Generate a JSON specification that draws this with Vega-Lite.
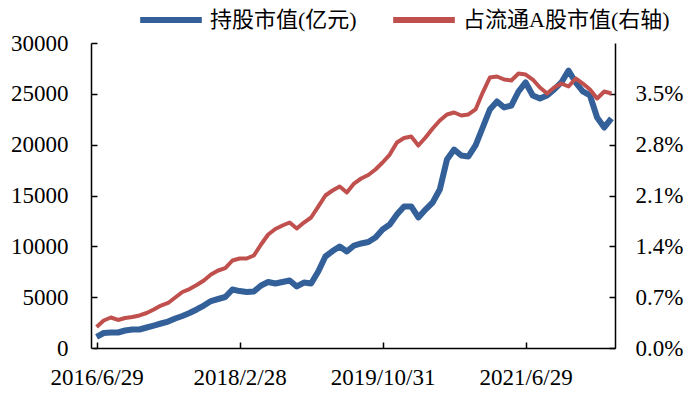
{
  "$schema": "https://vega.github.io/schema/vega-lite/v6.json",
  "width": 524,
  "height": 305,
  "autosize": {"type": "none"},
  "padding": {"left": 91, "top": 43, "right": 81, "bottom": 51},
  "background": "white",
  "config": {
    "view": {"stroke": null},
    "font": "Liberation Serif",
    "axis": {"labelFont": "Liberation Serif", "labelColor": "#000000", "domainColor": "#000000", "tickColor": "#000000", "domainWidth": 1.5, "tickWidth": 1.5, "grid": false, "title": null}
  },
  "data": {
    "values": [
      {"date": "2016/6/29", "value": 1100, "share": 0.00289},
      {"date": "2016/7/29", "value": 1475, "share": 0.00379},
      {"date": "2016/8/31", "value": 1525, "share": 0.00420},
      {"date": "2016/9/30", "value": 1525, "share": 0.00386},
      {"date": "2016/10/31", "value": 1720, "share": 0.00413},
      {"date": "2016/11/30", "value": 1820, "share": 0.00427},
      {"date": "2016/12/30", "value": 1820, "share": 0.00448},
      {"date": "2017/1/26", "value": 2015, "share": 0.00482},
      {"date": "2017/2/28", "value": 2210, "share": 0.00530},
      {"date": "2017/3/31", "value": 2410, "share": 0.00585},
      {"date": "2017/4/28", "value": 2605, "share": 0.00620},
      {"date": "2017/5/31", "value": 2900, "share": 0.00695},
      {"date": "2017/6/30", "value": 3150, "share": 0.00771},
      {"date": "2017/7/31", "value": 3440, "share": 0.00812},
      {"date": "2017/8/31", "value": 3790, "share": 0.00867},
      {"date": "2017/9/29", "value": 4180, "share": 0.00929},
      {"date": "2017/10/31", "value": 4620, "share": 0.01012},
      {"date": "2017/11/30", "value": 4820, "share": 0.01067},
      {"date": "2017/12/29", "value": 5015, "share": 0.01100},
      {"date": "2018/1/31", "value": 5750, "share": 0.01205},
      {"date": "2018/2/28", "value": 5600, "share": 0.01232},
      {"date": "2018/3/30", "value": 5500, "share": 0.01232},
      {"date": "2018/4/27", "value": 5560, "share": 0.01274},
      {"date": "2018/5/31", "value": 6150, "share": 0.01425},
      {"date": "2018/6/29", "value": 6490, "share": 0.01563},
      {"date": "2018/7/31", "value": 6340, "share": 0.01639},
      {"date": "2018/8/31", "value": 6490, "share": 0.01687},
      {"date": "2018/9/28", "value": 6640, "share": 0.01728},
      {"date": "2018/10/31", "value": 6050, "share": 0.01646},
      {"date": "2018/11/30", "value": 6440, "share": 0.01728},
      {"date": "2018/12/28", "value": 6340, "share": 0.01797},
      {"date": "2019/1/31", "value": 7520, "share": 0.01948},
      {"date": "2019/2/28", "value": 9000, "share": 0.02100},
      {"date": "2019/3/29", "value": 9540, "share": 0.02169},
      {"date": "2019/4/30", "value": 9980, "share": 0.02224},
      {"date": "2019/5/31", "value": 9490, "share": 0.02141},
      {"date": "2019/6/28", "value": 10080, "share": 0.02265},
      {"date": "2019/7/31", "value": 10280, "share": 0.02334},
      {"date": "2019/8/30", "value": 10430, "share": 0.02382},
      {"date": "2019/9/30", "value": 10870, "share": 0.02458},
      {"date": "2019/10/31", "value": 11660, "share": 0.02554},
      {"date": "2019/11/29", "value": 12150, "share": 0.02664},
      {"date": "2019/12/31", "value": 13130, "share": 0.02830},
      {"date": "2020/1/23", "value": 13920, "share": 0.02892},
      {"date": "2020/2/28", "value": 13920, "share": 0.02912},
      {"date": "2020/3/31", "value": 12840, "share": 0.02788},
      {"date": "2020/4/30", "value": 13620, "share": 0.02899},
      {"date": "2020/5/29", "value": 14310, "share": 0.03023},
      {"date": "2020/6/30", "value": 15590, "share": 0.03133},
      {"date": "2020/7/31", "value": 18540, "share": 0.03216},
      {"date": "2020/8/31", "value": 19520, "share": 0.03243},
      {"date": "2020/9/30", "value": 18930, "share": 0.03202},
      {"date": "2020/10/30", "value": 18840, "share": 0.03216},
      {"date": "2020/11/30", "value": 19920, "share": 0.03285},
      {"date": "2020/12/31", "value": 21690, "share": 0.03518},
      {"date": "2021/1/29", "value": 23460, "share": 0.03725},
      {"date": "2021/2/26", "value": 24250, "share": 0.03739},
      {"date": "2021/3/31", "value": 23660, "share": 0.03697},
      {"date": "2021/4/30", "value": 23850, "share": 0.03684},
      {"date": "2021/5/31", "value": 25230, "share": 0.03780},
      {"date": "2021/6/29", "value": 26120, "share": 0.03766},
      {"date": "2021/7/30", "value": 24840, "share": 0.03697},
      {"date": "2021/8/31", "value": 24540, "share": 0.03587},
      {"date": "2021/9/30", "value": 24840, "share": 0.03504},
      {"date": "2021/10/29", "value": 25430, "share": 0.03587},
      {"date": "2021/11/30", "value": 26120, "share": 0.03642},
      {"date": "2021/12/31", "value": 27290, "share": 0.03601},
      {"date": "2022/1/28", "value": 26120, "share": 0.03711},
      {"date": "2022/2/28", "value": 25230, "share": 0.03642},
      {"date": "2022/3/31", "value": 24840, "share": 0.03560},
      {"date": "2022/4/29", "value": 22670, "share": 0.03436},
      {"date": "2022/5/31", "value": 21690, "share": 0.03532},
      {"date": "2022/6/30", "value": 22580, "share": 0.03504}
    ]
  },
  "encoding": {
    "x": {
      "field": "date",
      "type": "ordinal",
      "sort": null,
      "scale": {"type": "point", "range": [2, 524]},
      "axis": {
        "values": ["2016/6/29", "2018/2/28", "2019/10/31", "2021/6/29"],
        "labelAngle": 0,
        "labelFontSize": 23,
        "tickSize": -6,
        "labelPadding": 24
      }
    }
  },
  "layer": [
    {
      "mark": {"type": "line", "strokeWidth": 6, "strokeCap": "butt", "strokeJoin": "round"},
      "encoding": {
        "y": {
          "field": "value",
          "type": "quantitative",
          "scale": {"domain": [0, 30000], "nice": false},
          "axis": {"orient": "left", "values": [0, 5000, 10000, 15000, 20000, 25000, 30000], "format": "d", "labelFontSize": 23, "tickSize": -6, "labelPadding": 29}
        },
        "color": {
          "datum": "持股市值(亿元)",
          "type": "nominal",
          "scale": {"domain": ["持股市值(亿元)", "占流通A股市值(右轴)"], "range": ["#34609a", "#c0504d"]},
          "legend": {
            "orient": "none",
            "legendX": 46,
            "legendY": -57,
            "direction": "horizontal",
            "title": null,
            "symbolType": "stroke",
            "symbolSize": 3800,
            "symbolStrokeWidth": 6,
            "labelFont": "Liberation Serif, Noto Sans CJK SC",
            "labelFontSize": 22,
            "labelColor": "#000000",
            "labelLimit": 400,
            "labelOffset": 5,
            "columnPadding": 24
          }
        }
      }
    },
    {
      "mark": {"type": "line", "strokeWidth": 4, "strokeCap": "butt", "strokeJoin": "round"},
      "encoding": {
        "y": {
          "field": "share",
          "type": "quantitative",
          "scale": {"domain": [0, 0.042], "nice": false},
          "axis": {"orient": "right", "values": [0, 0.007, 0.014, 0.021, 0.028, 0.035], "format": ".1%", "labelFontSize": 23, "tickSize": -6, "labelPadding": 26}
        },
        "color": {"datum": "占流通A股市值(右轴)", "type": "nominal"}
      }
    }
  ],
  "resolve": {"scale": {"y": "independent"}}
}
